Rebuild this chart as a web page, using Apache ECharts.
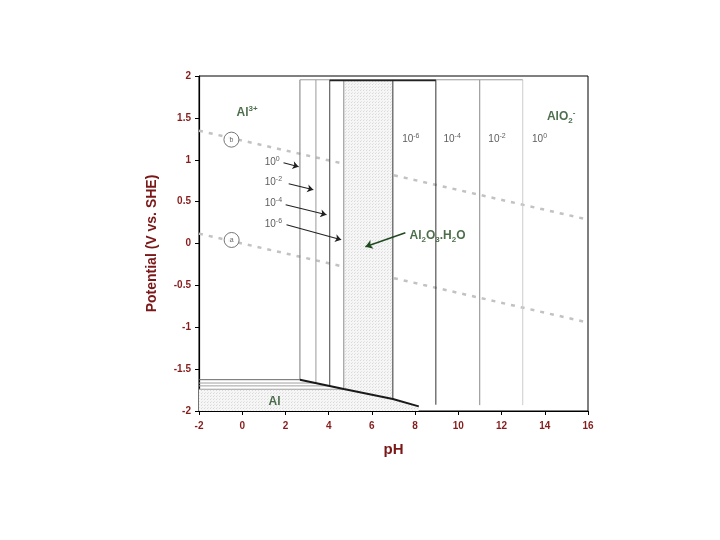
<!DOCTYPE html>
<html><head><meta charset="utf-8">
<script src="https://cdn.jsdelivr.net/npm/echarts@6/dist/echarts.min.js"></script>
<style>html,body{margin:0;padding:0;background:#fff}#c{width:720px;height:540px}</style>
</head><body><div id="c"></div>
<script>
// ---- data ----
const xTicks = [-2, 0, 2, 4, 6, 8, 10, 12, 14, 16];
const yTicks = [-2, -1.5, -1, -0.5, 0, 0.5, 1, 1.5, 2];
const concLabels = ['0', '-2', '-4', '-6'];                 // log10 of Al activity
const leftBoundaryPH = [2.67, 3.41, 4.05, 4.70];             // Al3+ / Al2O3.H2O
const rightBoundaryPH = [12.98, 10.99, 8.96, 6.97];          // Al2O3.H2O / AlO2-
const al3AlE = [-1.626, -1.666, -1.700, -1.740];             // Al3+ / Al
const rightLineBottomE = [-1.93, -1.93, -1.925, -1.857];
const oxideTopE = 1.955;
const oxideTopInnerE = 1.948;
const oxideAlLine = [[2.67, -1.626], [4.70, -1.737], [6.97, -1.857], [8.17, -1.945]];
const waterLineB = [[-2, 1.347], [16, 0.285]];
const waterLineA = [[-2, 0.118], [16, -0.944]];
const oxideRegion = [[4.70, 1.95], [6.97, 1.95], [6.97, -1.857], [4.70, -1.737]];
const alRegion = [[-2, -1.740], [4.70, -1.737], [6.97, -1.857], [8.17, -1.945], [8.17, -2], [-2, -2]];
const leftLabelPos = [[1.04, 0.965], [1.04, 0.726], [1.04, 0.475], [1.04, 0.224]];
const rightLabelPos = [[13.41, 1.24], [11.39, 1.24], [9.31, 1.24], [7.40, 1.24]];
const arrows = [
  [[1.91, 0.965], [2.61, 0.917]],
  [[2.15, 0.714], [3.29, 0.642]],
  [[2.01, 0.463], [3.90, 0.344]],
  [[2.05, 0.224], [4.58, 0.045]]
];
const oxideArrow = [[7.55, 0.129], [5.70, -0.038]];
const speciesLabels = [
  {name: 'Al3+', pos: [-0.26, 1.56], text: '{m|Al}{p|3+}'},
  {name: 'AlO2-', pos: [14.1, 1.514], text: '{m|AlO}{s|2}{p|-}'},
  {name: 'Al2O3.H2O', pos: [7.74, 0.093], text: '{m|Al}{s|2}{m|O}{s|3}{m|.H}{s|2}{m|O}'},
  {name: 'Al', pos: [1.22, -1.89], text: '{m|Al}'}
];
const waterMarks = [{pos: [-0.5, 1.24], t: 'b'}, {pos: [-0.49, 0.042], t: 'a'}];

// ---- styles ----
const leftColors = ['#7a7a7a', '#9a9a9a', '#454545', '#8a8a8a'];
const rightColors = ['#cccccc', '#8a8a8a', '#333333', '#333333'];
const hColors = ['#666666', '#a0a0a0', '#a0a0a0', '#a0a0a0'];
const red = '#861d1d';
const green = '#1f4a1f';
const FONT = '"Liberation Sans", Arial, sans-serif';

const pc = document.createElement('canvas');
pc.width = 3; pc.height = 3;
const pctx = pc.getContext('2d');
pctx.fillStyle = '#f6f6f6'; pctx.fillRect(0, 0, 3, 3);
pctx.fillStyle = '#d9d9d9'; pctx.fillRect(0, 0, 1, 1);
pctx.fillStyle = '#e4e4e4'; pctx.fillRect(1, 2, 1, 1);
const pattern = {image: pc, repeat: 'repeat'};

function seg(data, color, width, z, type) {
  return {type: 'line', data: data, symbol: 'none', silent: true, z: z || 3,
    lineStyle: {color: color, width: width || 1, type: type || 'solid'}, animation: false};
}

const series = [];
series.push(seg(waterLineB, '#c2c2c2', 2.5, 1, [4, 6]));
series.push(seg(waterLineA, '#c2c2c2', 2.5, 1, [4, 6]));
const polys = [oxideRegion, alRegion];
series.push({type: 'custom', coordinateSystem: 'cartesian2d', z: 2, silent: true,
  data: polys.map(p => p[0]),
  renderItem: (params, api) => ({type: 'polygon',
    shape: {points: polys[params.dataIndex].map(p => api.coord(p))},
    style: {fill: pattern}})
});
leftBoundaryPH.forEach((ph, i) => {
  series.push(seg([[ph, oxideTopE], [ph, al3AlE[i]]], leftColors[i], 1, 3));
  series.push(seg([[-2, al3AlE[i]], [ph, al3AlE[i]]], hColors[i], 1, 3));
});
rightBoundaryPH.forEach((ph, i) => {
  series.push(seg([[ph, oxideTopE], [ph, rightLineBottomE[i]]], rightColors[i], 1, 3));
});
series.push(seg([[leftBoundaryPH[0], oxideTopE], [rightBoundaryPH[0], oxideTopE]], '#9a9a9a', 1, 3));
series.push(seg([[leftBoundaryPH[2], oxideTopInnerE], [rightBoundaryPH[2], oxideTopInnerE]], '#222', 1.6, 4));
series.push(seg(oxideAlLine, '#1a1a1a', 2, 4));

series.push({type: 'lines', coordinateSystem: 'cartesian2d', z: 5, silent: true,
  symbol: ['none', 'arrow'], symbolSize: 6,
  lineStyle: {color: '#222', width: 1.1, opacity: 1},
  data: arrows.map(c => ({coords: c}))});
series.push({type: 'lines', coordinateSystem: 'cartesian2d', z: 5, silent: true,
  symbol: ['none', 'arrow'], symbolSize: 7,
  lineStyle: {color: green, width: 1.5, opacity: 1},
  data: [{coords: oxideArrow}]});

const numRich = {
  n: {fontSize: 10, fontFamily: FONT, color: '#333', lineHeight: 14},
  q: {fontSize: 7, fontFamily: FONT, color: '#333', verticalAlign: 'top'}
};
function txtSeries(items) {
  return {type: 'scatter', symbolSize: 0, z: 6, silent: true, animation: false,
    data: items.map(it => ({value: it.pos, label: {formatter: it.text}})),
    label: {show: true, position: 'right', distance: 0,
      rich: Object.assign({
        m: {fontSize: 12, fontWeight: 'bold', fontFamily: FONT, color: green, lineHeight: 16},
        p: {fontSize: 8, fontWeight: 'bold', fontFamily: FONT, color: green, verticalAlign: 'top'},
        s: {fontSize: 8, fontWeight: 'bold', fontFamily: FONT, color: green, verticalAlign: 'bottom'}
      }, numRich)}};
}
series.push(txtSeries(speciesLabels));
series.push(txtSeries(leftLabelPos.map((p, i) => ({pos: p, text: '{n|10}{q|' + concLabels[i] + '}'}))));
series.push(txtSeries(rightLabelPos.map((p, i) => ({pos: p, text: '{n|10}{q|' + concLabels[i] + '}'}))));

series.push({type: 'scatter', z: 6, silent: true, animation: false, symbol: 'circle', symbolSize: 15,
  itemStyle: {color: '#fff', borderColor: '#555', borderWidth: 1},
  data: waterMarks.map(w => ({value: w.pos, label: {formatter: w.t}})),
  label: {show: true, position: 'inside', fontSize: 7, color: '#444', fontFamily: FONT}});

const axisCommon = {
  axisLine: {onZero: false, lineStyle: {color: '#000', width: 1.2}},
  axisTick: {inside: false, length: 4, lineStyle: {color: '#000'}},
  splitLine: {show: false},
  axisLabel: {color: red, fontWeight: 'bold', fontSize: 10, fontFamily: FONT},
  nameLocation: 'middle',
  nameTextStyle: {color: '#7a1818', fontWeight: 'bold', fontFamily: FONT}
};

const chart = echarts.init(document.getElementById('c'), null, {renderer: 'canvas'});
chart.setOption({
  animation: false,
  backgroundColor: '#fff',
  grid: {left: 199, right: 132, top: 76, bottom: 129, show: true, borderColor: '#000', borderWidth: 1, backgroundColor: 'transparent'},
  xAxis: Object.assign({}, axisCommon, {type: 'value', min: xTicks[0], max: xTicks[xTicks.length - 1], interval: 2,
    name: 'pH', nameGap: 31, axisLabel: Object.assign({}, axisCommon.axisLabel, {margin: 10}),
    nameTextStyle: Object.assign({}, axisCommon.nameTextStyle, {fontSize: 15})}),
  yAxis: Object.assign({}, axisCommon, {type: 'value', min: yTicks[0], max: yTicks[yTicks.length - 1], interval: 0.5,
    name: 'Potential (V vs. SHE)', nameGap: 40, axisLabel: Object.assign({}, axisCommon.axisLabel, {margin: 8}),
    nameTextStyle: Object.assign({}, axisCommon.nameTextStyle, {fontSize: 14})}),
  series: series
});
</script></body></html>
